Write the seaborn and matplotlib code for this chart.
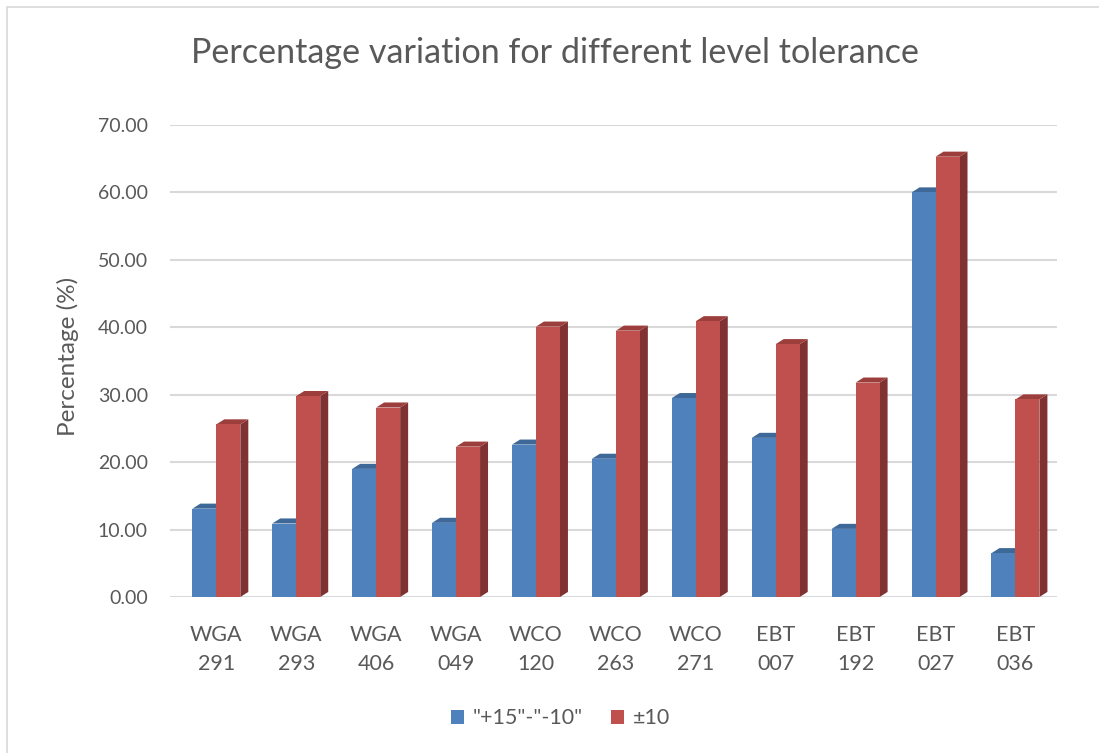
"""Percentage variation for different level tolerance (3D-look clustered columns)."""
import numpy as np
import pandas as pd
import seaborn as sns
import matplotlib.pyplot as plt
from matplotlib.patches import Polygon
from matplotlib.lines import Line2D
from matplotlib.ticker import FormatStrFormatter

# data
stations = ["WGA\n291", "WGA\n293", "WGA\n406", "WGA\n049", "WCO\n120", "WCO\n263",
            "WCO\n271", "EBT\n007", "EBT\n192", "EBT\n027", "EBT\n036"]
tol_15_10 = [13.1, 10.9, 19.0, 11.0, 22.6, 20.5, 29.5, 23.6, 10.1, 60.0, 6.5]
tol_pm10 = [25.6, 29.8, 28.1, 22.3, 40.1, 39.5, 40.9, 37.5, 31.8, 65.3, 29.3]
series_names = ['"+15"-"-10"', "±10"]

front_colors = ["#4F81BD", "#C0504D"]
side_colors = ["#395E8C", "#7F3231"]
top_colors = ["#3E6898", "#9C3E3B"]

df = pd.DataFrame({
    "station": stations * 2,
    "value": tol_15_10 + tol_pm10,
    "tolerance": [series_names[0]] * len(stations) + [series_names[1]] * len(stations),
})

sns.set_style("white")
plt.rcParams["font.family"] = ["Lato", "DejaVu Sans"]
text_grey = "#595959"

fig = plt.figure(figsize=(10.99, 7.53), dpi=100)
ax = fig.add_axes([170 / 1099, 1 - 597 / 753, 887 / 1099, 472 / 753])

sns.barplot(data=df, x="station", y="value", hue="tolerance", palette=front_colors,
            width=0.6, linewidth=0, saturation=1, ax=ax, zorder=3, legend=False)

# fake 3D depth: side and top faces built from each bar patch
dx, dy = 0.1, 0.75
bars = list(ax.patches)
n = len(stations)
for i, bar in enumerate(bars):
    k = i // n
    x0, w, h = bar.get_x(), bar.get_width(), bar.get_height()
    side = Polygon([(x0 + w, 0), (x0 + w + dx, dy), (x0 + w + dx, h + dy), (x0 + w, h)],
                   closed=True, facecolor=side_colors[k], edgecolor="none", zorder=2)
    top = Polygon([(x0, h), (x0 + dx, h + dy), (x0 + w + dx, h + dy), (x0 + w, h)],
                  closed=True, facecolor=top_colors[k], edgecolor="none", zorder=2)
    ax.add_patch(side)
    ax.add_patch(top)

ax.set_ylim(0, 70)
ax.set_xlim(-0.58, 10.52)
ax.set_yticks(np.arange(0, 71, 10))
ax.yaxis.set_major_formatter(FormatStrFormatter("%.2f"))
ax.grid(axis="y", color="#d9d9d9", linewidth=1.5, zorder=0)
ax.set_axisbelow(True)
for s in ax.spines.values():
    s.set_visible(False)

ax.tick_params(axis="y", length=0, pad=16, labelsize=14, labelcolor=text_grey)
ax.tick_params(axis="x", length=0, pad=20, labelsize=15.5, labelcolor=text_grey)
for lab in ax.get_xticklabels():
    lab.set_linespacing(1.55)
ax.set_xlabel("")
ax.set_ylabel("Percentage (%)", fontsize=17.5, color=text_grey)
ax.yaxis.set_label_coords(-0.103, 0.51)

fig.text(0.505, 0.929, "Percentage variation for different level tolerance",
         ha="center", va="center", fontsize=24.6, color=text_grey)

handles = [plt.Rectangle((0, 0), 1, 1, facecolor=c, edgecolor="none") for c in front_colors]
fig.legend(handles, series_names, loc="center", bbox_to_anchor=(0.51, 0.046), ncol=2,
           frameon=False, fontsize=15.5, labelcolor=text_grey, handlelength=0.6,
           handleheight=0.6, columnspacing=1.3, handletextpad=0.4)

# light frame on the top and left edge like the source image
fig.add_artist(Line2D([7 / 1099, 1], [1 - 7 / 753, 1 - 7 / 753], color="#d9d9d9", lw=1.2))
fig.add_artist(Line2D([7 / 1099, 7 / 1099], [0, 1 - 7 / 753], color="#d9d9d9", lw=1.2))

fig.savefig("out.png", dpi=100)
